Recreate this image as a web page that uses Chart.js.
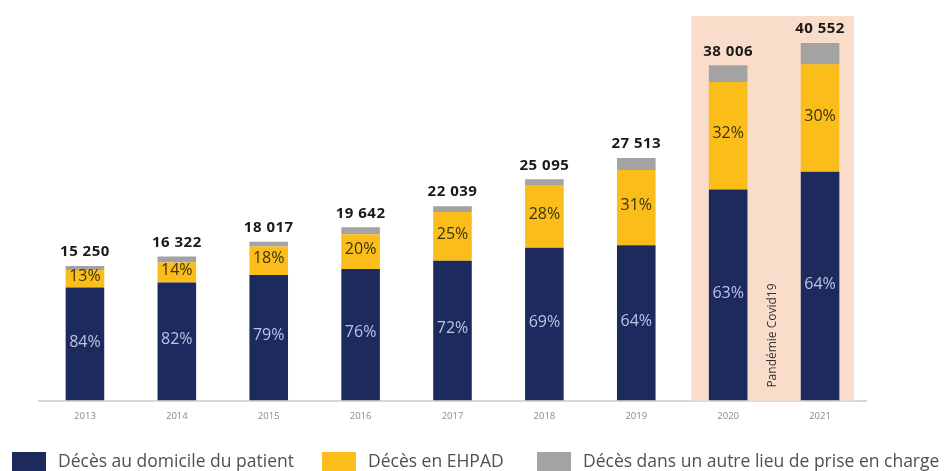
<!DOCTYPE html>
<html>
<head>
<meta charset="utf-8">
<script src="https://cdn.jsdelivr.net/npm/chart.js@4/dist/chart.umd.min.js"></script>
<style>
html,body{margin:0;padding:0;background:#fff;}
#wrap{width:947px;height:471px;position:relative;}
</style>
</head>
<body>
<div id="wrap"><canvas id="c" width="947" height="471"></canvas></div>
<script>
const years = ['2013','2014','2015','2016','2017','2018','2019','2020','2021'];
const totals = [15250, 16322, 18017, 19642, 22039, 25095, 27513, 38006, 40552];
const domicile = [12810, 13384, 14233, 14928, 15868, 17316, 17608, 23944, 25953];
const ehpad = [1983, 2285, 3243, 3928, 5510, 7027, 8529, 12162, 12166];
const autre = [457, 653, 541, 786, 661, 752, 1376, 1900, 2433];
const pctDomicile = ['84%','82%','79%','76%','72%','69%','64%','63%','64%'];
const pctEhpad = ['13%','14%','18%','20%','25%','28%','31%','32%','30%'];
const covidYears = ['2020','2021'];
const covidLabel = 'Pandémie Covid19';
const seriesNames = ['Décès au domicile du patient','Décès en EHPAD','Décès dans un autre lieu de prise en charge'];

const NAVY = '#1d2a5d', YELLOW = '#fbbd1a', GRAY = '#a3a3a3', PINK = '#fadcca';
const FONT = "'Open Sans', sans-serif";

const covidPlugin = {
  id: 'covid',
  beforeDatasetsDraw(chart) {
    const {ctx, chartArea, scales} = chart;
    const x = scales.x;
    const step = x.getPixelForValue(1) - x.getPixelForValue(0);
    const i0 = years.indexOf(covidYears[0]), i1 = years.indexOf(covidYears[1]);
    const left = x.getPixelForValue(i0) - step * 0.40;
    const right = x.getPixelForValue(i1) + step * 0.37;
    ctx.save();
    ctx.fillStyle = PINK;
    ctx.fillRect(left, chartArea.top, right - left, chartArea.bottom - chartArea.top);
    ctx.restore();
  },
  afterDatasetsDraw(chart) {
    const {ctx, chartArea, scales} = chart;
    const x = scales.x;
    const i0 = years.indexOf(covidYears[0]), i1 = years.indexOf(covidYears[1]);
    const cx = (x.getPixelForValue(i0) + x.getPixelForValue(i1)) / 2 - 2;
    ctx.save();
    ctx.translate(cx, chartArea.bottom - 13);
    ctx.rotate(-Math.PI / 2);
    ctx.fillStyle = '#333';
    ctx.font = "12px " + FONT;
    ctx.textAlign = 'left';
    ctx.textBaseline = 'middle';
    ctx.fillText(covidLabel, 0, 0);
    ctx.restore();
  }
};

const labelsPlugin = {
  id: 'labels',
  afterDatasetsDraw(chart) {
    const {ctx} = chart;
    const m0 = chart.getDatasetMeta(0), m1 = chart.getDatasetMeta(1), m2 = chart.getDatasetMeta(2);
    ctx.save();
    ctx.textAlign = 'center';
    ctx.textBaseline = 'middle';
    years.forEach((y, i) => {
      const b0 = m0.data[i], b1 = m1.data[i], b2 = m2.data[i];
      ctx.font = "16px " + FONT;
      ctx.fillStyle = '#bcc3e6';
      ctx.fillText(pctDomicile[i], b0.x, (b0.y + b0.base) / 2 - 2);
      ctx.fillStyle = '#3b3315';
      ctx.fillText(pctEhpad[i], b1.x, (b1.y + b1.base) / 2 - 2);
      ctx.font = "bold 15px " + FONT;
      ctx.fillStyle = '#1a1a1a';
      if ('letterSpacing' in ctx) ctx.letterSpacing = '0.5px';
      ctx.fillText(totals[i].toLocaleString('fr-FR').replace(/\s/g, ' '), b2.x, b2.y - 14);
      if ('letterSpacing' in ctx) ctx.letterSpacing = '0px';
    });
    ctx.restore();
  }
};

const legendPlugin = {
  id: 'customLegend',
  afterDraw(chart) {
    const {ctx} = chart;
    const boxX = [12, 322, 537];
    const top = 452;
    ctx.save();
    ctx.font = "17.5px " + FONT;
    ctx.textBaseline = 'middle';
    ctx.textAlign = 'left';
    chart.data.datasets.forEach((ds, i) => {
      ctx.fillStyle = ds.backgroundColor;
      ctx.fillRect(boxX[i], top, 34, 20);
      ctx.fillStyle = '#505050';
      ctx.fillText(ds.label, boxX[i] + 46, top + 10);
    });
    ctx.restore();
  }
};

new Chart(document.getElementById('c'), {
  type: 'bar',
  data: {
    labels: years,
    datasets: [
      {label: seriesNames[0], data: domicile, backgroundColor: NAVY},
      {label: seriesNames[1], data: ehpad, backgroundColor: YELLOW},
      {label: seriesNames[2], data: autre, backgroundColor: GRAY}
    ]
  },
  options: {
    responsive: false,
    animation: false,
    devicePixelRatio: 1,
    layout: {padding: {left: 39, right: 81, top: 16, bottom: 39}},
    datasets: {bar: {categoryPercentage: 1, barPercentage: 0.42}},
    plugins: {legend: {display: false}, tooltip: {enabled: false}},
    scales: {
      x: {
        stacked: true,
        grid: {display: false, drawTicks: false},
        border: {display: true, color: '#d8d8d8', width: 2},
        ticks: {color: '#8a8a8a', font: {size: 9.5, family: FONT}, padding: 10}
      },
      y: {
        stacked: true, display: false, min: 0, max: 43600
      }
    }
  },
  plugins: [covidPlugin, labelsPlugin, legendPlugin]
});
</script>
</body>
</html>
